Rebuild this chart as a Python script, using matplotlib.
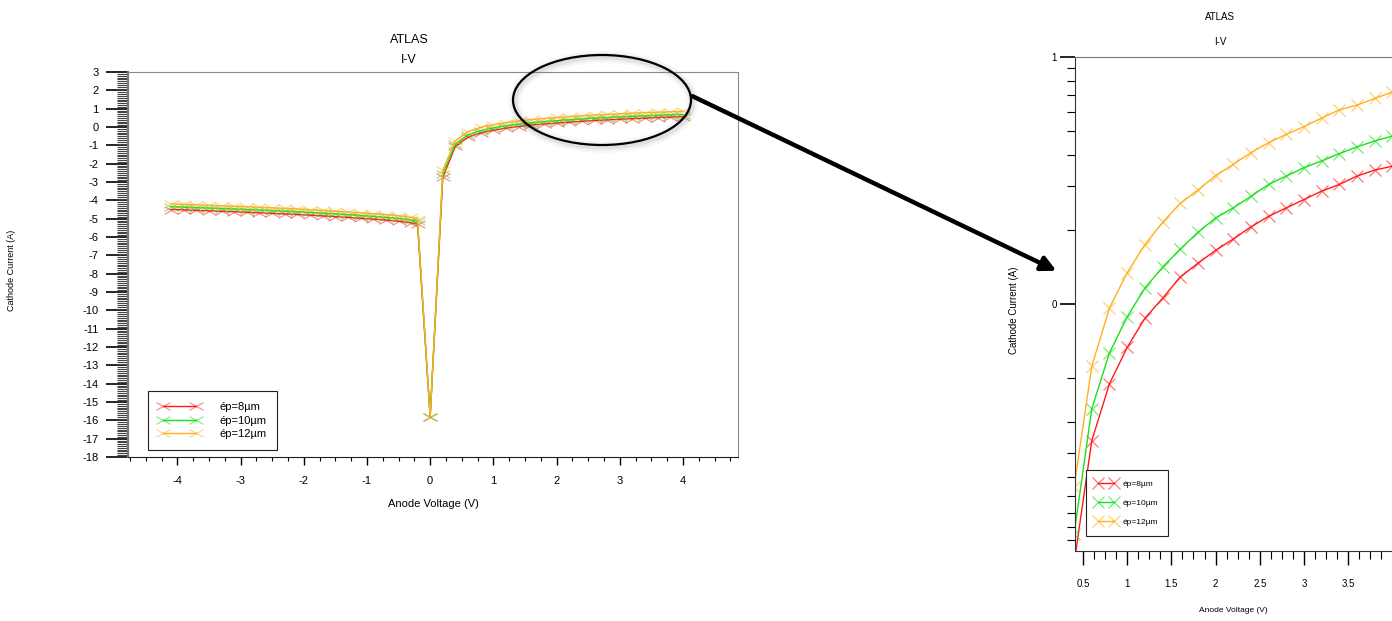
import numpy as np
import matplotlib
matplotlib.use("Agg")
import matplotlib.pyplot as plt
from matplotlib.path import Path
from matplotlib.patches import Ellipse, FancyArrowPatch
from matplotlib.colors import to_rgba

plt.rcParams['font.family'] = ['Liberation Sans', 'DejaVu Sans']
plt.rcParams['axes.unicode_minus'] = False

labels = ["ép=8µm", "ép=10µm", "ép=12µm"]
colors = ["#ff1a1a", "#1ae01a", "#ffb020"]

# reverse bias
v_neg = [-4.1, -3.9, -3.7, -3.5, -3.3, -3.1, -2.9, -2.7, -2.5, -2.3, -2.1,
         -1.9, -1.7, -1.5, -1.3, -1.1, -0.9, -0.7, -0.5, -0.3, -0.2]
i8_neg = [-4.50, -4.52, -4.55, -4.57, -4.60, -4.62, -4.65, -4.68, -4.71, -4.74, -4.77,
          -4.81, -4.85, -4.89, -4.93, -4.98, -5.03, -5.08, -5.14, -5.23, -5.30]
i10_neg = [-4.35, -4.37, -4.40, -4.42, -4.45, -4.47, -4.50, -4.53, -4.56, -4.59, -4.62,
           -4.66, -4.70, -4.74, -4.78, -4.83, -4.88, -4.93, -4.99, -5.08, -5.15]
i12_neg = [-4.20, -4.22, -4.25, -4.27, -4.30, -4.32, -4.35, -4.38, -4.41, -4.44, -4.47,
           -4.51, -4.55, -4.59, -4.63, -4.68, -4.73, -4.78, -4.84, -4.93, -5.00]

# around 0 V
v_mid = [0.0, 0.2]
i8_mid = [-15.8, -2.75]
i10_mid = [-15.8, -2.55]
i12_mid = [-15.8, -2.35]

# forward bias
v_pos = [0.4, 0.6, 0.8, 1.0, 1.2, 1.4, 1.6, 1.8, 2.0, 2.2, 2.4, 2.6, 2.8, 3.0,
         3.2, 3.4, 3.6, 3.8, 4.0]
i8_pos = [-1.05, -0.553, -0.323, -0.176, -0.058, 0.023, 0.109, 0.165, 0.217, 0.263,
          0.312, 0.355, 0.389, 0.423, 0.457, 0.484, 0.518, 0.542, 0.558]
i10_pos = [-0.93, -0.424, -0.198, -0.052, 0.064, 0.149, 0.222, 0.290, 0.348, 0.389,
           0.436, 0.484, 0.518, 0.552, 0.579, 0.609, 0.636, 0.660, 0.680]
i12_pos = [-0.74, -0.252, -0.016, 0.126, 0.240, 0.330, 0.407, 0.461, 0.520, 0.565,
           0.613, 0.653, 0.687, 0.718, 0.753, 0.786, 0.805, 0.832, 0.858]

voltage = np.concatenate([v_neg, v_mid, v_pos])
currents = [np.concatenate([i8_neg, i8_mid, i8_pos]),
            np.concatenate([i10_neg, i10_mid, i10_pos]),
            np.concatenate([i12_neg, i12_mid, i12_pos])]

wide_x = Path([(-1, -0.55), (1, 0.55), (-1, 0.55), (1, -0.55)],
              [Path.MOVETO, Path.LINETO, Path.MOVETO, Path.LINETO])

fig = plt.figure(figsize=(13.92, 6.21), dpi=100)

# ---------- left panel: full I-V ----------
ax1 = fig.add_axes([128 / 1392, 1 - 457 / 621, 610 / 1392, 385 / 621])
for cur, col, lab in zip(currents, colors, labels):
    ax1.plot(voltage, cur, color=col, linewidth=1.0, label=lab,
             marker=wide_x, markersize=10, markeredgewidth=0.8,
             markeredgecolor=to_rgba(col, 0.55))

ax1.set_xlim(-4.78, 4.87)
ax1.set_ylim(-18, 3)
ax1.set_xticks(range(-4, 5))
ax1.set_xticks(np.arange(-4.75, 4.8, 0.25), minor=True)
ax1.set_yticks(range(-18, 4))
ax1.set_yticks([n + k / 10 for n in range(-18, 3) for k in range(1, 10)], minor=True)
ax1.tick_params(axis='y', which='major', length=16, width=1.2, labelsize=8, pad=5)
ax1.tick_params(axis='y', which='minor', length=8, width=0.8, color='#444444')
ax1.tick_params(axis='x', which='major', length=6, width=1.0, labelsize=8, pad=8)
ax1.tick_params(axis='x', which='minor', length=3, width=0.8)
for s in ['top', 'right']:
    ax1.spines[s].set_color('#8a8a8a')
ax1.spines['left'].set_color('#777777')
ax1.spines['left'].set_linewidth(1.6)
ax1.spines['bottom'].set_color('#222222')

leg1 = ax1.legend(loc='lower left', bbox_to_anchor=(0.022, 0.0), numpoints=2,
                  handlelength=3.6, handletextpad=1.8, fontsize=8, fancybox=False,
                  framealpha=1, edgecolor='#222222', borderpad=1.0,
                  labelspacing=0.32, borderaxespad=0.6)
leg1.get_frame().set_linewidth(0.8)

fig.text(409 / 1392, 1 - 40 / 621, "ATLAS", ha='center', va='center', fontsize=9)
fig.text(409 / 1392, 1 - 60 / 621, "I-V", ha='center', va='center', fontsize=9)
fig.text(433 / 1392, 1 - 504 / 621, "Anode Voltage (V)", ha='center', va='center', fontsize=8)
fig.text(12 / 1392, 1 - 270 / 621, "Cathode Current (A)", ha='center', va='center',
         fontsize=6.5, rotation=90)

# ---------- right panel: zoom on forward bias ----------
narrow = ['Liberation Sans Narrow', 'Liberation Sans', 'DejaVu Sans']
ax2 = fig.add_axes([1075 / 1392, 1 - 551 / 621, 320 / 1392, 494 / 621])
for cur, col, lab in zip(currents, colors, labels):
    ax2.plot(voltage, cur, color=col, linewidth=1.0, label=lab,
             marker='x', markersize=8, markeredgewidth=0.9,
             markeredgecolor=to_rgba(col, 0.6))

ax2.set_xlim(0.41, 4.03)
ax2.set_ylim(-1.0, 1.0)
ax2.set_xticks([0.5, 1, 1.5, 2, 2.5, 3, 3.5])
ax2.set_xticklabels(["0.5", "1", "1.5", "2", "2.5", "3", "3.5"], family=narrow)
ax2.set_xticks([v for v in np.arange(0.625, 4.01, 0.125) if abs(v * 2 - round(v * 2)) > 1e-6],
               minor=True)
ax2.set_yticks([0, 1])
ax2.set_yticklabels(["0", "1"], family=narrow)
logpos = [np.log10(k) for k in range(2, 10)]
ax2.set_yticks(logpos + [-p for p in logpos], minor=True)
ax2.tick_params(axis='x', which='major', length=10, width=1.0, labelsize=7, pad=10)
ax2.tick_params(axis='x', which='minor', length=6, width=0.8)
ax2.tick_params(axis='y', which='major', length=11, width=1.2, labelsize=7, pad=2)
ax2.tick_params(axis='y', which='minor', length=6, width=0.8)
ax2.spines['right'].set_visible(False)
ax2.spines['top'].set_color('#777777')
ax2.spines['left'].set_color('#333333')
ax2.spines['bottom'].set_color('#333333')

leg2 = ax2.legend(loc='lower left', bbox_to_anchor=(0.02, 0.022), numpoints=2,
                  handlelength=2.5, handletextpad=0.7, prop={'family': narrow, 'size': 6},
                  fancybox=False, framealpha=1, edgecolor='#222222',
                  borderpad=1.2, labelspacing=1.35)
leg2.get_frame().set_linewidth(0.8)

fig.text(1220 / 1392, 1 - 17 / 621, "ATLAS", ha='center', va='center', fontsize=7, family=narrow)
fig.text(1220 / 1392, 1 - 42 / 621, "I-V", ha='center', va='center', fontsize=7, family=narrow)
fig.text(1233 / 1392, 1 - 611 / 621, "Anode Voltage (V)", ha='center', va='center',
         fontsize=6, family=narrow)
fig.text(1014 / 1392, 1 - 310 / 621, "Cathode Current (A)", ha='center', va='center',
         fontsize=7, rotation=90, family=narrow)

# ---------- ellipse + arrow linking the two panels ----------
cx, cy = 602 / 1392, 1 - 100 / 621
ew, eh = 178 / 1392, 90 / 621
for lw, a in [(9, 0.05), (6, 0.08), (3.5, 0.12)]:
    fig.add_artist(Ellipse((cx + 0.001, cy - 0.003), ew, eh, transform=fig.transFigure,
                           fill=False, edgecolor='gray', linewidth=lw, alpha=a))
fig.add_artist(Ellipse((cx, cy), ew, eh, transform=fig.transFigure,
                       fill=False, edgecolor='black', linewidth=1.6))
fig.add_artist(FancyArrowPatch((690 / 1392, 1 - 95 / 621), (1059 / 1392, 1 - 272 / 621),
                               transform=fig.transFigure, arrowstyle='-|>',
                               mutation_scale=22, linewidth=3.2, color='black'))

fig.savefig("out.png", dpi=100)
